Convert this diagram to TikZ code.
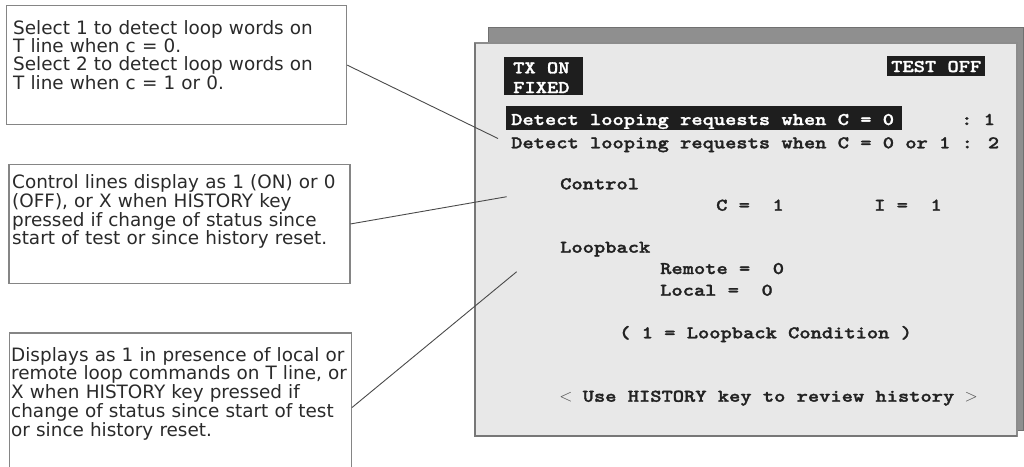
\documentclass[tikz,border=0pt]{standalone}
\usepackage{fontspec}
\newfontfamily\callfont{DejaVu Sans}
\newfontfamily\scrfont{lmmonolt10-bold.otf}[FakeStretch=1.205,FakeBold=1.6]
\definecolor{boxgray}{HTML}{858585}
\definecolor{linegray}{HTML}{4A4A4A}
\definecolor{shadowfill}{HTML}{8F8F8F}
\definecolor{shadowedge}{HTML}{707070}
\definecolor{screenfill}{HTML}{E8E8E8}
\definecolor{screenedge}{HTML}{8C8C8C}
\definecolor{screendark}{HTML}{777777}
\definecolor{labfill}{HTML}{1E1E1E}
\definecolor{scrtext}{HTML}{222222}
\definecolor{calltext}{HTML}{2A2A2A}
\tikzset{
  callbox/.style={draw=boxgray, line width=1.2pt, inner sep=0pt, anchor=north west},
  call/.style={font=\callfont\fontsize{18.4pt}{17.5pt}\selectfont, text=calltext, anchor=base west, inner sep=0pt, align=left, text width=345pt},
  scr/.style={font=\scrfont\fontsize{17.8pt}{17.8pt}\selectfont, text=scrtext, anchor=base west, inner sep=0pt},
  inv/.style={scr, text=white},
  labbox/.style={fill=labfill},
  conn/.style={draw=linegray, line width=0.9pt},
}
\newlength\chw
\setlength\chw{11.26pt}
\begin{document}
\begin{tikzpicture}[x=1pt,y=-1pt]
\useasboundingbox (0,0) rectangle (1024,466);
\clip (0,0) rectangle (1024,466);
% screen
\draw[draw=shadowedge, fill=shadowfill, line width=1pt] (488,27) rectangle (1023,430);
\draw[draw=screenedge, fill=screenfill, line width=1.4pt] (475,43) rectangle (1017,436);
\draw[draw=screendark, line width=1.8pt] (475,43) -- (475,436) -- (1017,436);
% black labels
\fill[labbox] (504,57) rectangle (583,95);
\fill[labbox] (887,56) rectangle (985,76);
\fill[labbox] (506,106) rectangle (902,129.5);
\node[inv] (txon) at (513,73.3) {TX ON};
\node[inv] (fixed) at (513,93) {FIXED};
\node[inv] (testoff) at (891,72) {TEST OFF};
\node[inv] (det1) at (511,125) {Detect looping requests when C = 0};
\node[scr] (sel1) at (961,125) {:\ 1};
\node[scr] (det2) at (511,148.3) {Detect looping requests when C = 0 or 1 : 2};
\node[scr] (ctrl) at (560,189.3) {Control};
\node[scr] (cval) at (716,210.7) {C =\ \ 1};
\node[scr] (ival) at (874,210.7) {I =\ \ 1};
\node[scr] (loop) at (560,252.7) {Loopback};
\node[scr] (remote) at (660,274) {Remote =\ \ 0};
\node[scr] (local) at (660,295.7) {Local =\ \ 0};
\node[scr] (cond) at (619,338.3) {( 1 = Loopback Condition )};
\node[scr] (hist) at (560,401.7) {\makebox[\chw]{\normalfont\color{black!70}$<$}\ Use HISTORY key to review history\ \makebox[\chw]{\normalfont\color{black!70}$>$}};
% callout boxes
\node[callbox, minimum width=340pt, minimum height=119pt] (box1) at (6,5) {};
\node[callbox, minimum width=341pt, minimum height=118.7pt] (box2) at (8.3,164) {};
\node[callbox, minimum width=341.7pt, minimum height=149.4pt] (box3) at (9,332.3) {};
\node[call] (t1) at (13,34) {Select 1 to detect loop words on\\T line when c = 0.\\Select 2 to detect loop words on\\T line when c = 1 or 0.};
\node[call] (t2) at (12,188.5) {Control lines display as 1 (ON) or 0\\(OFF), or X when HISTORY key\\pressed if change of status since\\start of test or since history reset.};
\node[call] (t3) at (11,361) {Displays as 1 in presence of local or\\remote loop commands on T line, or\\X when HISTORY key pressed if\\change of status since start of test\\or since history reset.};
% connectors
\coordinate (e1) at (498,138.5);
\coordinate (e2) at (506.7,196.7);
\coordinate (e3) at (516.7,271.7);
\draw[conn] (box1.east) -- (e1);
\draw[conn] (box2.east) -- (e2);
\draw[conn] (box3.east) -- (e3);
\end{tikzpicture}
\end{document}
